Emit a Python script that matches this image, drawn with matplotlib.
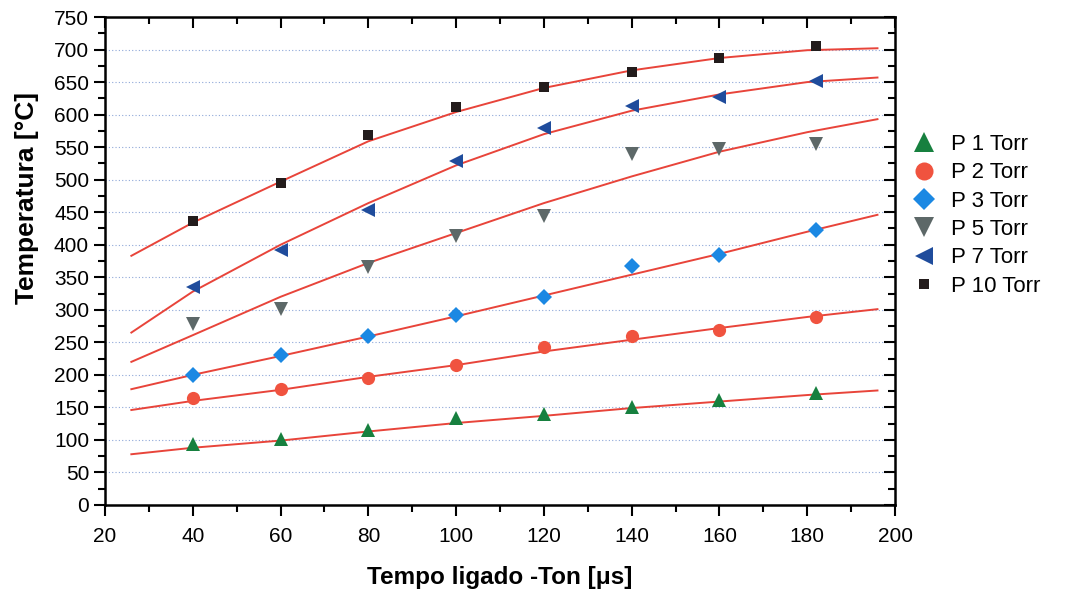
import numpy as np
import matplotlib
matplotlib.use("Agg")
import matplotlib.pyplot as plt
from matplotlib.lines import Line2D
from matplotlib.ticker import MultipleLocator

plt.rcParams.update({
    "font.family": ["Liberation Sans", "DejaVu Sans"],
    "font.size": 15,
    "axes.linewidth": 1.8,
})

# measured points (Ton in microseconds, temperature in C)
ton = [40, 60, 80, 100, 120, 140, 160, 182]
t_p1 = [93, 101, 115, 133, 140, 150, 162, 172]
t_p2 = [164, 179, 195, 215, 243, 259, 269, 289]
t_p3 = [200, 230, 259, 292, 319, 367, 384, 423]
t_p5 = [278, 302, 366, 414, 444, 539, 547, 555]
t_p7 = [335, 392, 453, 528, 579, 613, 627, 652]
t_p10 = [436, 495, 569, 612, 642, 665, 687, 706]

# fitted curves
ton_fit = [26, 40, 60, 80, 100, 120, 140, 160, 180, 196]
fit_p1 = [78, 88, 99, 113, 126, 137, 149, 159, 169, 176]
fit_p2 = [146, 160, 177, 197, 215, 236, 254, 272, 289, 301]
fit_p3 = [178, 200, 229, 259, 290, 322, 354, 386, 420, 446]
fit_p5 = [220, 261, 320, 372, 418, 464, 505, 543, 573, 593]
fit_p7 = [265, 328, 400, 464, 522, 570, 606, 631, 650, 657]
fit_p10 = [383, 434, 497, 559, 604, 641, 668, 687, 699, 702]

labels = ["P 1 Torr", "P 2 Torr", "P 3 Torr", "P 5 Torr", "P 7 Torr", "P 10 Torr"]
series = [t_p1, t_p2, t_p3, t_p5, t_p7, t_p10]
fits = [fit_p1, fit_p2, fit_p3, fit_p5, fit_p7, fit_p10]
markers = ["^", "o", "D", "v", "<", "s"]
sizes = [10, 9.5, 8, 10, 10, 7.5]
leg_sizes = [14, 13, 11, 14, 12.5, 7.5]
colors = ["#17803f", "#f0533f", "#1b88e3", "#5d6868", "#1f4c9c", "#231c1c"]
fit_color = "#e8443a"

fig = plt.figure(figsize=(10.65, 5.93), dpi=100)
ax = fig.add_axes([0.0986, 0.1484, 0.7418, 0.8229])

for y in range(50, 750, 50):
    ax.axhline(y, color="#8fa8d8", linestyle=(0, (1, 2)), linewidth=0.8, zorder=0)

for f in fits:
    ax.plot(ton_fit, f, color=fit_color, linewidth=1.4, zorder=2,
            solid_joinstyle="round")

for s, m, ms, c, lab in zip(series, markers, sizes, colors, labels):
    ax.plot(ton, s, linestyle="none", marker=m, markersize=ms,
            color=c, markeredgewidth=0, label=lab, zorder=3)

ax.set_xlim(20, 200)
ax.set_ylim(0, 750)
ax.xaxis.set_major_locator(MultipleLocator(20))
ax.xaxis.set_minor_locator(MultipleLocator(10))
ax.yaxis.set_major_locator(MultipleLocator(50))
ax.yaxis.set_minor_locator(MultipleLocator(25))

ax.tick_params(which="both", top=True, right=True, width=1.5, direction="out")
ax.tick_params(which="major", length=8)
ax.tick_params(which="minor", length=5)
ax.tick_params(axis="x", pad=8)
ax.tick_params(labelsize=15)
# top/right ticks point inward
for t in ax.xaxis.get_major_ticks() + ax.xaxis.get_minor_ticks():
    t.tick2line.set_marker(3)
for t in ax.yaxis.get_major_ticks() + ax.yaxis.get_minor_ticks():
    t.tick2line.set_marker(0)

ax.set_xlabel("Tempo ligado -Ton [\u03bcs]", fontsize=17.5, fontweight="bold")
ax.set_ylabel("Temperatura [\u00b0C]", fontsize=19, fontweight="bold")
ax.xaxis.set_label_coords(0.5, -0.124)
ax.yaxis.set_label_coords(-0.084, 0.63)

proxies = [Line2D([], [], linestyle="none", marker=m, markersize=ms, color=c,
                  markeredgewidth=0)
           for m, ms, c in zip(markers, leg_sizes, colors)]
fig.legend(proxies, labels, loc="upper left", bbox_to_anchor=(0.843, 0.80),
           frameon=False, fontsize=16, labelspacing=0.33, handlelength=1.0,
           handletextpad=0.7, borderpad=0.2)

fig.savefig("out.png", dpi=100)
